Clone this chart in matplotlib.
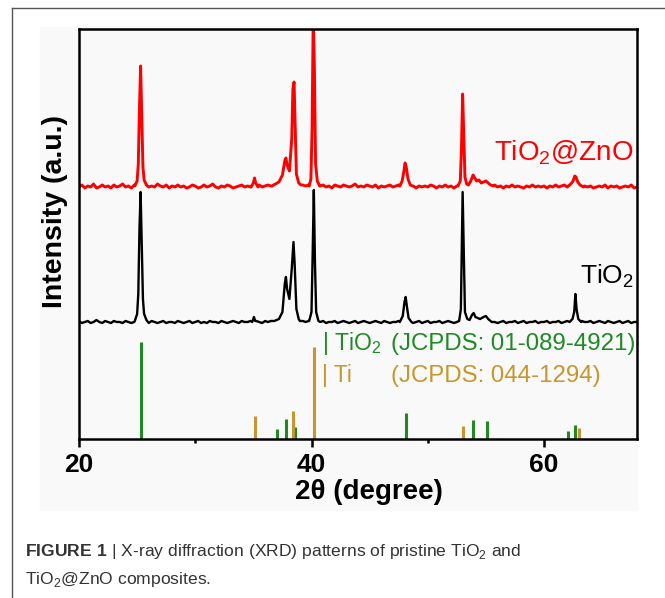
import numpy as np
import matplotlib
matplotlib.use("Agg")
import matplotlib.pyplot as plt
from matplotlib import font_manager
from matplotlib.patches import Rectangle
from matplotlib.lines import Line2D

# ---- data -------------------------------------------------------------
# baseline noise on a 0.25 deg grid starting at 20 deg (a.u.)
red_noise = [
    2, 4, 1, 3, 2, 5, 1, 2, 4, 2, 3, 1, 4, 2, 3, 5, 2, 3, 1, 4,
    2, 3, 1, 4, 2, 3, 2, 5, 3, 2, 4, 1, 3, 2, 4, 2, 3, 1, 2, 4,
    3, 1, 2, 4, 2, 3, 5, 2, 1, 3, 2, 4, 3, 1, 2, 3, 4, 2, 3, 2,
    3, 2, 4, 2, 3, 4, 3, 5, 4, 6, 7, 6, 8, 9, 7, 6, 5, 4, 3, 4,
    3, 4, 2, 3, 4, 2, 3, 1, 4, 3, 2, 4, 3, 2, 3, 5, 2, 3, 2, 4,
    3, 2, 4, 1, 3, 2, 3, 4, 2, 3, 4, 2, 3, 2, 4, 3, 1, 3, 2, 3,
    2, 4, 3, 1, 3, 2, 4, 2, 3, 1, 3, 2, 4, 3, 2, 4, 3, 5, 4, 3,
    4, 3, 2, 4, 2, 3, 1, 3, 2, 4, 2, 3, 2, 1, 3, 2, 4, 2, 3, 2,
    3, 1, 3, 2, 4, 2, 3, 4, 3, 2, 4, 3, 5, 4, 3, 2, 3, 1, 2, 3,
    2, 4, 1, 3, 2, 3, 1, 2, 3, 2, 4, 1, 2,
]
black_noise = [
    3, 1, 2, 3, 1, 2, 4, 2, 1, 3, 2, 1, 3, 2, 2, 1, 3, 2, 1, 2,
    2, 1, 3, 2, 1, 3, 2, 1, 2, 3, 1, 2, 2, 1, 3, 2, 1, 2, 3, 1,
    2, 3, 1, 2, 1, 3, 2, 2, 1, 3, 2, 1, 2, 3, 2, 1, 3, 2, 2, 3,
    2, 3, 2, 1, 3, 2, 3, 3, 4, 3, 5, 4, 5, 6, 5, 4, 3, 3, 2, 3,
    2, 3, 1, 2, 3, 1, 2, 2, 3, 1, 2, 3, 2, 1, 2, 3, 1, 2, 3, 2,
    1, 2, 3, 2, 1, 3, 2, 1, 2, 2, 3, 1, 2, 3, 2, 1, 2, 3, 1, 2,
    3, 1, 2, 2, 3, 1, 2, 3, 2, 1, 2, 3, 2, 3, 3, 4, 3, 4, 3, 3,
    3, 2, 3, 2, 1, 2, 3, 1, 2, 2, 3, 1, 2, 3, 1, 2, 2, 3, 1, 2,
    2, 3, 1, 2, 2, 3, 1, 2, 3, 2, 2, 3, 4, 3, 2, 2, 3, 1, 2, 3,
    2, 1, 3, 2, 1, 2, 3, 1, 2, 3, 1, 2, 2,
]

# diffraction peaks, sampled (2theta, intensity)
red_peaks = [
    [(24.8, 3), (25.0, 8), (25.1, 25), (25.2, 80), (25.3, 123), (25.4, 70),
     (25.5, 22), (25.6, 9), (25.8, 4)],
    [(34.8, 2), (35.0, 6), (35.1, 11), (35.2, 6), (35.4, 2)],
    [(36.6, 3), (36.9, 5), (37.2, 7), (37.5, 14), (37.7, 28), (37.8, 31),
     (37.9, 24), (38.1, 18), (38.3, 50), (38.4, 100), (38.5, 107), (38.6, 60),
     (38.7, 15), (38.9, 6), (39.1, 4)],
    [(39.8, 3), (39.95, 10), (40.05, 60), (40.15, 175), (40.25, 120),
     (40.35, 25), (40.5, 8), (40.7, 3)],
    [(47.6, 3), (47.8, 8), (47.95, 18), (48.05, 26), (48.15, 22), (48.3, 10),
     (48.5, 4), (48.7, 3)],
    [(52.6, 3), (52.8, 8), (52.9, 40), (53.0, 95), (53.1, 55), (53.2, 12),
     (53.35, 5), (53.5, 4), (53.7, 8), (53.9, 14), (54.0, 12), (54.2, 8),
     (54.4, 9), (54.6, 6), (54.8, 7), (55.0, 8), (55.2, 6), (55.4, 4), (55.7, 3)],
    [(62.0, 2), (62.3, 5), (62.5, 8), (62.65, 13), (62.75, 12), (62.9, 7),
     (63.1, 4), (63.4, 2)],
]
black_peaks = [
    [(24.8, 3), (25.0, 10), (25.1, 30), (25.2, 95), (25.3, 132), (25.4, 80),
     (25.5, 25), (25.6, 10), (25.8, 4)],
    [(34.9, 2), (35.05, 7), (35.15, 3)],
    [(36.8, 3), (37.2, 5), (37.5, 12), (37.7, 40), (37.8, 47), (37.9, 35),
     (38.1, 25), (38.3, 55), (38.45, 82), (38.55, 60), (38.7, 15), (38.9, 5)],
    [(39.8, 3), (40.0, 12), (40.1, 70), (40.2, 134), (40.3, 60), (40.4, 12),
     (40.6, 3)],
    [(47.6, 2), (47.85, 8), (48.0, 22), (48.1, 27), (48.2, 18), (48.35, 6),
     (48.6, 2)],
    [(52.7, 3), (52.85, 15), (52.95, 90), (53.0, 132), (53.1, 70), (53.2, 12),
     (53.4, 5), (53.6, 4), (53.8, 9), (53.95, 11), (54.1, 7), (54.3, 6),
     (54.5, 5), (54.8, 7), (55.0, 8), (55.2, 5), (55.5, 2)],
    [(62.2, 2), (62.45, 5), (62.6, 12), (62.7, 30), (62.8, 15), (62.95, 5),
     (63.2, 2)],
]

# reference patterns
tio2_ref_pos = [25.3, 37.0, 37.8, 38.6, 48.1, 53.9, 55.1, 62.1, 62.7]
tio2_ref_int = [97, 10, 20, 12, 26, 19, 18, 8, 14]
ti_ref_pos = [35.1, 38.4, 40.2, 53.0, 63.0]
ti_ref_int = [23, 28, 92, 13, 11]

red_offset = 250
black_offset = 115

GREEN = "#1f8a24"
GOLD = "#c8962e"


def build_pattern(noise, peaks):
    tt = 20 + 0.25 * np.arange(len(noise))
    keep = np.ones(len(tt), bool)
    for seg in peaks:
        keep &= ~((tt >= seg[0][0]) & (tt <= seg[-1][0]))
    xs = list(tt[keep])
    ys = list(np.asarray(noise, float)[keep])
    for seg in peaks:
        xs += [p[0] for p in seg]
        ys += [p[1] for p in seg]
    order = np.argsort(xs)
    return np.asarray(xs)[order], np.asarray(ys)[order]


names = {f.name for f in font_manager.fontManager.ttflist}
SANS = "Liberation Sans" if "Liberation Sans" in names else "DejaVu Sans"
NARROW = "Liberation Sans Narrow" if "Liberation Sans Narrow" in names else SANS

plt.rcParams["font.family"] = [SANS, "DejaVu Sans"]
plt.rcParams["mathtext.fontset"] = "custom"
plt.rcParams["mathtext.rm"] = NARROW
plt.rcParams["mathtext.bf"] = NARROW + ":bold"

fig = plt.figure(figsize=(6.65, 5.98), dpi=100)
W, H = 665, 598

# light panel behind the chart and the page frame
fig.patches.append(Rectangle((40 / W, 1 - 510 / H), 597 / W, 483 / H,
                             transform=fig.transFigure, color="#f9f9f9", zorder=-10))
fig.lines.append(Line2D([12 / W, 12 / W], [0, 1 - 8 / H], transform=fig.transFigure,
                        color="#555555", lw=1.0))
fig.lines.append(Line2D([12 / W, 1], [1 - 8 / H, 1 - 8 / H], transform=fig.transFigure,
                        color="#555555", lw=1.0))

ax = fig.add_axes([79 / W, 1 - 439 / H, 558 / W, 410 / H])
ax.set_facecolor("#f9f9f9")

x, y = build_pattern(red_noise, red_peaks)
ax.plot(x, y + red_offset, color="#ff0000", lw=2.1)
x, y = build_pattern(black_noise, black_peaks)
ax.plot(x, y + black_offset, color="black", lw=1.7)

ax.vlines(tio2_ref_pos, 0, tio2_ref_int, color=GREEN, lw=2.2)
ax.vlines(ti_ref_pos, 0, ti_ref_int, color=GOLD, lw=2.2)

ax.set_xlim(20, 68)
ax.set_ylim(0, 410)
ax.set_xticks([20, 40, 60])
ax.set_xticks([30, 50], minor=True)
ax.set_yticks([])
ax.tick_params(axis="x", which="major", direction="out", length=6, width=1.8,
               pad=4, labelsize=19)
ax.tick_params(axis="x", which="minor", direction="out", length=3, width=1.8)
for lab in ax.get_xticklabels():
    lab.set_fontweight("bold")
for sp in ax.spines.values():
    sp.set_linewidth(1.8)

fig.text(55 / W, 1 - 212 / H, "Intensity (a.u.)", rotation=90, ha="center",
         va="center", fontsize=20.5, fontweight="bold")
fig.text(369 / W, 1 - 492 / H, "2θ (degree)", ha="center", va="center",
         fontsize=20, fontweight="bold")

# curve labels
ax.text(0.993, 1 - (160 - 29) / 410, r"TiO$_\mathregular{2}$@ZnO",
        transform=ax.transAxes, ha="right", va="baseline", color="#ff0000",
        fontsize=20)
ax.text(0.995, 1 - (283 - 29) / 410, r"TiO$_\mathregular{2}$",
        transform=ax.transAxes, ha="right", va="baseline", color="black",
        fontsize=19)

# reference legend
lx1 = (322 - 79) / 558
lx2 = (391 - 79) / 558
ax.text(lx1, 1 - (350 - 29) / 410, r"| TiO$_\mathregular{2}$", transform=ax.transAxes,
        ha="left", va="baseline", color=GREEN, fontsize=16.5)
ax.text(lx2, 1 - (350 - 29) / 410, "(JCPDS: 01-089-4921)", transform=ax.transAxes,
        ha="left", va="baseline", color=GREEN, fontsize=17.3)
ax.text(lx1, 1 - (382 - 29) / 410, "| Ti", transform=ax.transAxes,
        ha="left", va="baseline", color=GOLD, fontsize=16.5)
ax.text(lx2, 1 - (382 - 29) / 410, "(JCPDS: 044-1294)", transform=ax.transAxes,
        ha="left", va="baseline", color=GOLD, fontsize=17.3)

# caption
fig.text(25 / W, 1 - 556 / H,
         r"$\mathbf{FIGURE\ 1}$ | X-ray diffraction (XRD) patterns of pristine TiO$_\mathregular{2}$ and",
         ha="left", va="baseline", family=NARROW, fontsize=12.6, color="#333333")
fig.text(25 / W, 1 - 584 / H, r"TiO$_\mathregular{2}$@ZnO composites.",
         ha="left", va="baseline", family=NARROW, fontsize=12.6, color="#333333")

fig.savefig("out.png", dpi=100)
